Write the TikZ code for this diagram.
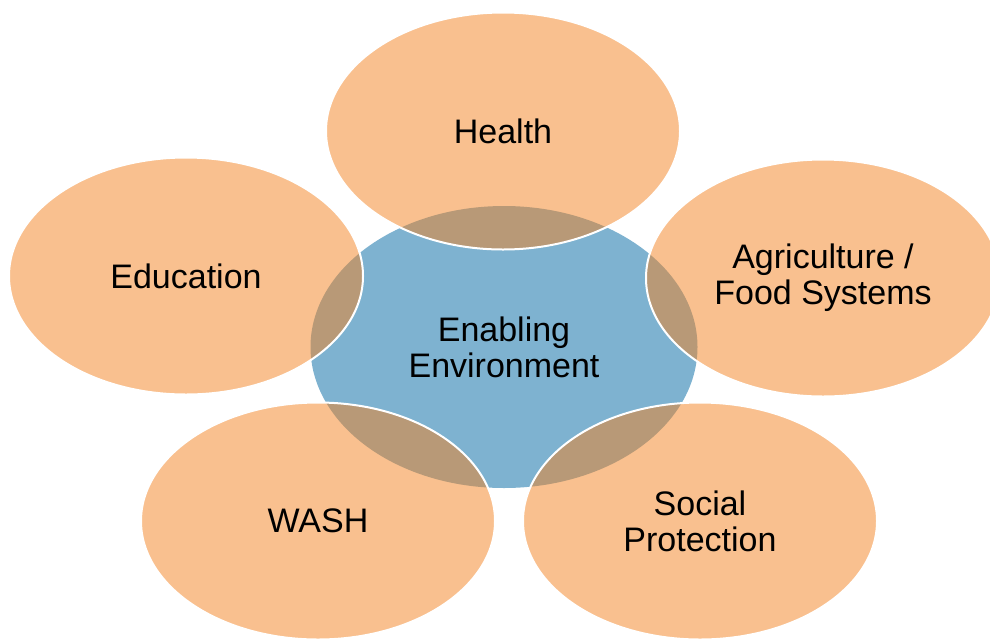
\documentclass[tikz,border=0pt]{standalone}
\usepackage{fontspec}
\setmainfont{Liberation Sans}
\usetikzlibrary{shapes.geometric, positioning}
\definecolor{petalorange}{RGB}{243,129,31}
\definecolor{hubblue}{RGB}{126,178,208}

\begin{document}
\begin{tikzpicture}[x=1pt, y=-1pt]
	\tikzset {every node/.style={font=\fontsize{34}{36}\selectfont, align=center, inner sep=0pt},
		hub/.style={ellipse, fill=hubblue, minimum width=387pt, minimum height=282pt},
		petal/.style={ellipse, fill=petalorange, fill opacity=0.5, text opacity=1, draw=white, line width=2pt, minimum width=354pt, minimum height=237pt} }
	\useasboundingbox (0,0) rectangle (990,638);
	\node[hub] (env) at (504,347) {Enabling\\Environment};
	\node[petal] (health) at (503,131) {Health};
	\node[petal] (educ) at (186,276) {Education};
	\node[petal] (agri) at (823,278) {Agriculture /\\Food Systems};
	\node[petal] (wash) at (318,521) {WASH};
	\node[petal] (social) at (700,521) {Social\\Protection};
\end{tikzpicture}
\end{document}
